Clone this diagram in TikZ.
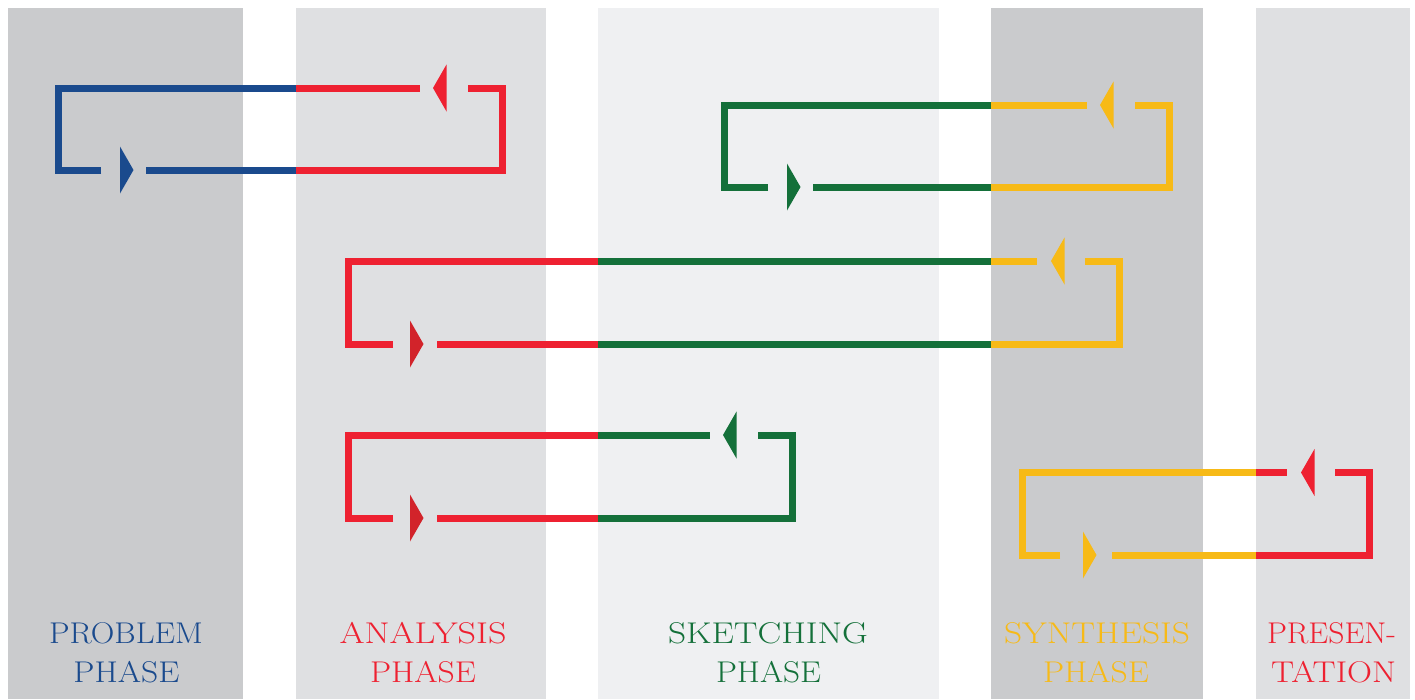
\documentclass[tikz,border=0pt]{standalone}
\usepackage{graphicx}
\definecolor{cblue}{HTML}{1A4A8D}
\definecolor{cred}{HTML}{EE2131}
\definecolor{credd}{HTML}{D2232A}
\definecolor{cgreen}{HTML}{14703A}
\definecolor{cyellow}{HTML}{F7BA17}
\definecolor{bandD}{HTML}{CACBCD}
\definecolor{bandL}{HTML}{DFE0E2}
\definecolor{bandX}{HTML}{EFF0F2}
\tikzset{
  loopline/.style={line width=7pt, line join=miter, line cap=butt},
  rtri/.pic={\fill (0,-23.5) -- (13.5,0) -- (0,23.5) -- cycle;},
  ltri/.pic={\fill (0,0) -- (13.5,-23.5) -- (13.5,23.5) -- cycle;},
  lab/.style={anchor=base, inner sep=0pt, font=\fontsize{30}{36}\selectfont},
}
\newcommand{\fitw}[2]{\resizebox{#1pt}{\height}{#2}}
\begin{document}
\begin{tikzpicture}[x=1pt,y=-1pt]
\useasboundingbox (0,0) rectangle (1415,699);
\fill[white] (0,0) rectangle (1415,699);
% bands
\fill[bandD] (8,8) rectangle (243,699);
\fill[bandL] (296,8) rectangle (546,699);
\fill[bandX] (598,8) rectangle (939,699);
\fill[bandD] (991,8) rectangle (1203,699);
\fill[bandL] (1256,8) rectangle (1410,699);

% loop 1: problem / analysis
\draw[loopline, cblue] (101,170) -- (58,170) -- (58,88) -- (296,88);
\draw[loopline, cblue] (146,170) -- (296,170);
\draw[loopline, cred] (296,88) -- (420,88);
\draw[loopline, cred] (468,88) -- (502,88) -- (502,170) -- (296,170);
\pic[cblue] at (120,170) {rtri};
\pic[cred] at (433,88) {ltri};

% loop 2: sketching / synthesis
\draw[loopline, cgreen] (768,187) -- (724,187) -- (724,105) -- (991,105);
\draw[loopline, cgreen] (813,187) -- (991,187);
\draw[loopline, cyellow] (991,105) -- (1087,105);
\draw[loopline, cyellow] (1135,105) -- (1169,105) -- (1169,187) -- (991,187);
\pic[cgreen] at (787,187) {rtri};
\pic[cyellow] at (1100,105) {ltri};

% loop 3: analysis / sketching / synthesis
\draw[loopline, cred] (393,344) -- (348,344) -- (348,261) -- (598,261);
\draw[loopline, cred] (437,344) -- (598,344);
\draw[loopline, cgreen] (598,261) -- (991,261);
\draw[loopline, cgreen] (598,344) -- (991,344);
\draw[loopline, cyellow] (991,261) -- (1037,261);
\draw[loopline, cyellow] (1085,261) -- (1119.5,261) -- (1119.5,344) -- (991,344);
\pic[credd] at (410,344) {rtri};
\pic[cyellow] at (1051,261) {ltri};

% loop 4: analysis / sketching
\draw[loopline, cred] (393,518) -- (348,518) -- (348,435) -- (598,435);
\draw[loopline, cred] (437,518) -- (598,518);
\draw[loopline, cgreen] (598,435) -- (710,435);
\draw[loopline, cgreen] (758,435) -- (792,435) -- (792,518) -- (598,518);
\pic[credd] at (410,518) {rtri};
\pic[cgreen] at (723,435) {ltri};

% loop 5: synthesis / presentation
\draw[loopline, cyellow] (1060,555) -- (1022,555) -- (1022,472.5) -- (1256,472.5);
\draw[loopline, cyellow] (1112,555) -- (1256,555);
\draw[loopline, cred] (1256,472.5) -- (1287,472.5);
\draw[loopline, cred] (1335,472.5) -- (1369,472.5) -- (1369,555) -- (1256,555);
\pic[cyellow] at (1083,555) {rtri};
\pic[cred] at (1301,472.5) {ltri};

% labels
\node[lab, text=cblue] (t1a) at (126,643) {\fitw{154}{PROBLEM}};
\node[lab, text=cblue] (t1b) at (126.5,682) {\fitw{106}{PHASE}};
\node[lab, text=cred] (t2a) at (423,643) {\fitw{167}{ANALYSIS}};
\node[lab, text=cred] (t2b) at (423,682) {\fitw{106}{PHASE}};
\node[lab, text=cgreen] (t3a) at (768,643) {\fitw{200}{SKETCHING}};
\node[lab, text=cgreen] (t3b) at (768.5,682) {\fitw{105}{PHASE}};
\node[lab, text=cyellow] (t4a) at (1097,643) {\fitw{186}{SYNTHESIS}};
\node[lab, text=cyellow] (t4b) at (1096,682) {\fitw{106}{PHASE}};
\node[lab, text=cred] (t5a) at (1331.5,643) {\fitw{129}{PRESEN-}};
\node[lab, text=cred] (t5b) at (1333.5,682) {\fitw{125}{TATION}};
\end{tikzpicture}
\end{document}
